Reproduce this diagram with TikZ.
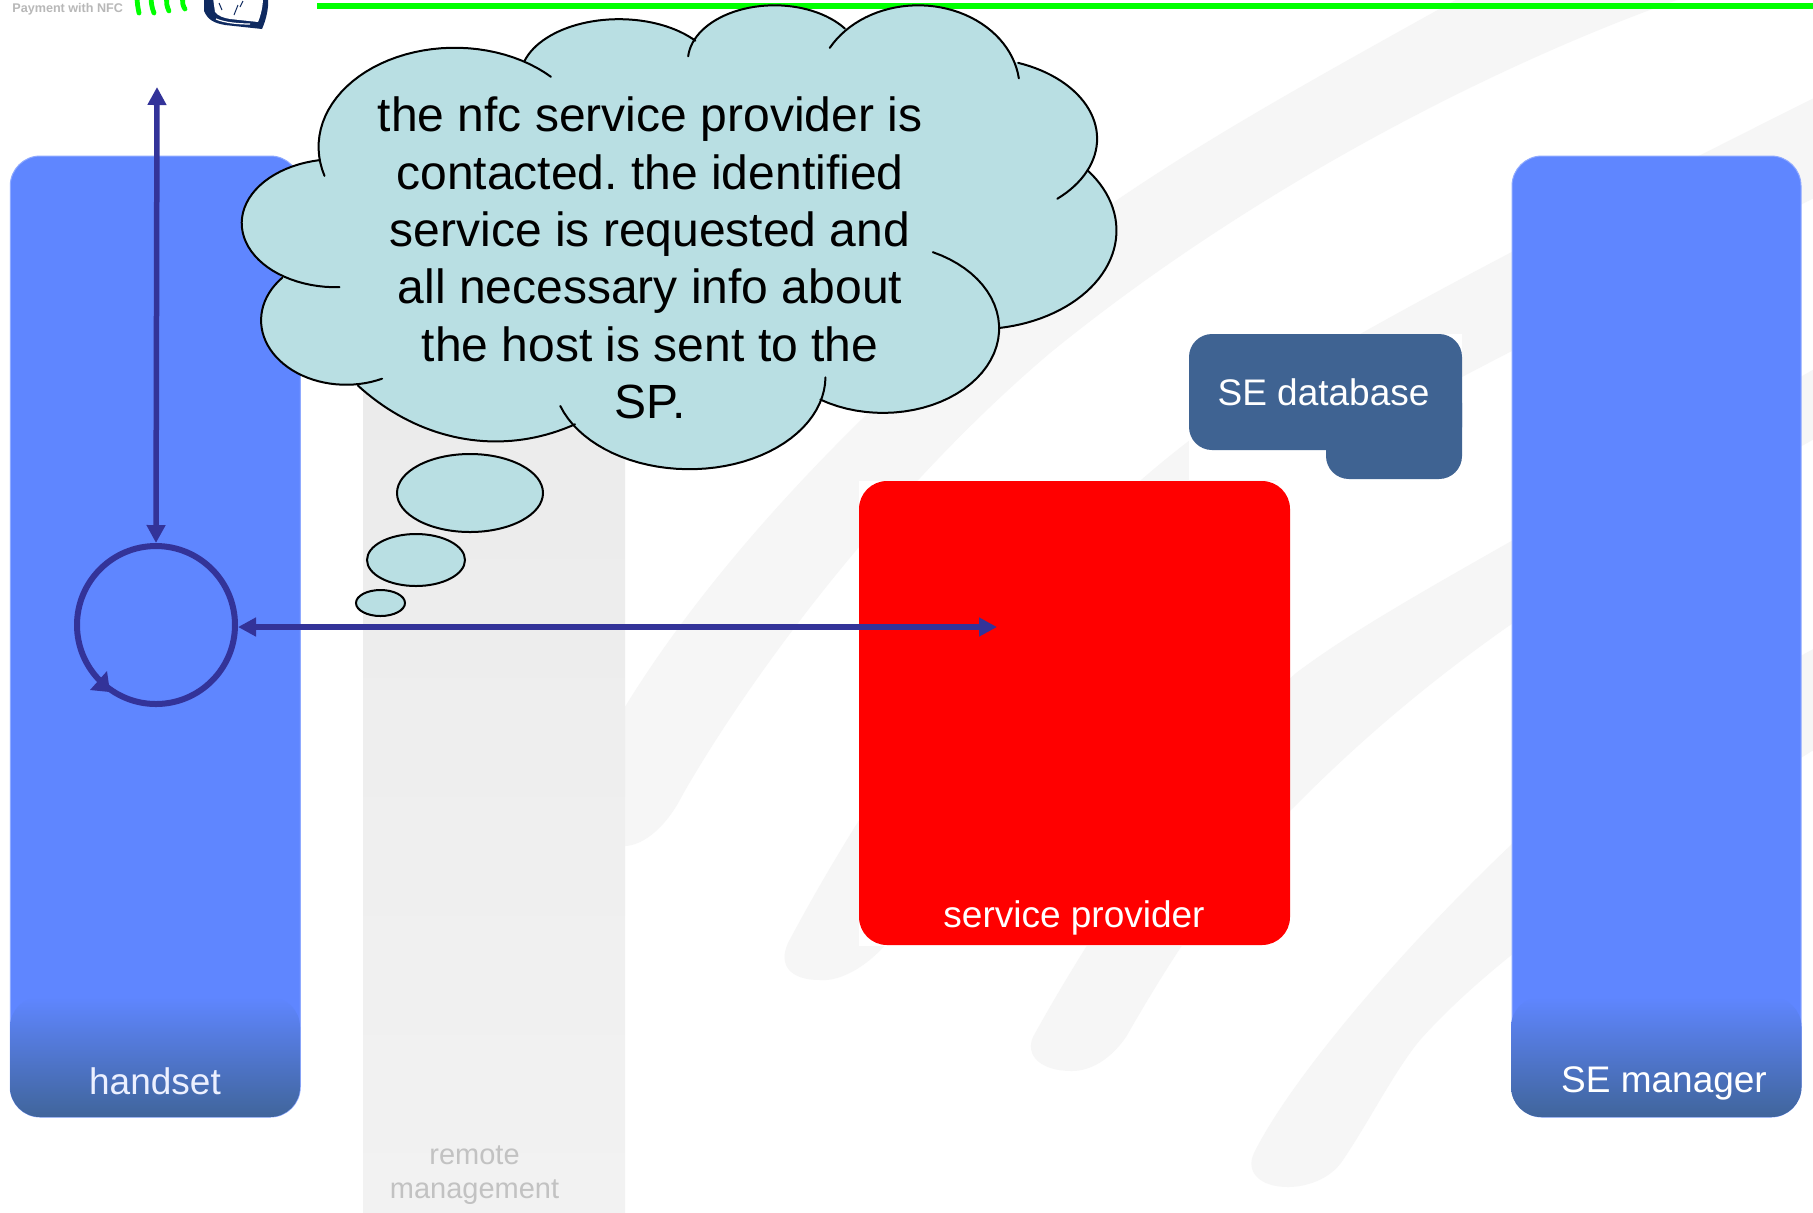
\documentclass[tikz,border=0pt]{standalone}
\usepackage{fontspec}
\setmainfont{Liberation Sans}
\usetikzlibrary{arrows.meta,calc,shapes.geometric}
\definecolor{barblue}{HTML}{5F86FF}
\definecolor{bardark}{HTML}{40659B}
\definecolor{dbblue}{HTML}{3F6392}
\definecolor{cloudcol}{HTML}{B9DFE3}
\definecolor{arrowcol}{HTML}{333399}
\definecolor{swooshcol}{HTML}{F6F6F6}
\definecolor{navy}{HTML}{0F2A60}
\definecolor{bandtop}{HTML}{EBEBEB}
\definecolor{bandbottom}{HTML}{F2F2F2}
% each lobe: centre x, centre y, radius x, radius y, first angle, last angle
\newcommand\cloudlobes[1]{%
#1{400}{360}{232}{243}{163}{315}%
#1{680}{190.5}{168}{143.5}{197.3}{320.8}%
#1{945}{149}{147.5}{136}{184.6}{324.5}%
#1{1190}{218}{173}{205}{209.4}{352.7}%
#1{1290}{340}{205}{198}{-69.9}{48}%
#1{1290}{565}{238}{242}{-37.5}{80.8}%
#1{1130}{805}{198}{207}{-64.6}{122.6}%
#1{800}{923}{232}{227}{0.5}{161.5}%
#1{470}{392}{393}{690}{69.9}{126.7}%
#1{215}{785}{145}{158}{65}{221.2}%
#1{198}{547}{161}{157}{88}{260}%
}
\newcommand\lobefill[6]{\path[cloudbody] plot[domain=#5:#6,samples=40,variable=\t] ({#1+#3*cos(\t)},{#2+#4*sin(\t)}) -- cycle;}
\newcommand\lobeline[6]{\draw[cloudline] plot[domain=#5:#6,samples=40,variable=\t] ({#1+#3*cos(\t)},{#2+#4*sin(\t)});}
\tikzset{
 cloudbody/.style={fill=cloudcol,draw=cloudcol,line width=.6pt},
 cloudline/.style={black,line width=1pt,line cap=round,line join=round},
 bubble/.style={ellipse,draw=black,fill=cloudcol,line width=1pt,inner sep=0pt,outer sep=0pt},
 barbox/.style={rectangle,fill=barblue,draw=barblue!70!white,line width=.5pt,rounded corners=15pt,inner sep=0pt,outer sep=0pt},
 label37/.style={font=\fontsize{18.5}{22}\selectfont,text=white,inner sep=0pt,anchor=base},
 link/.style={arrowcol,line width=2.75pt,{Triangle[length=9pt,width=9pt]}-{Triangle[length=9pt,width=9pt]}},
 swoosh/.style={fill=swooshcol},
 tick/.style={draw=green,line width=2.4pt,line cap=round},
}
\begin{document}
\frenchspacing
\begin{tikzpicture}[x=0.5pt,y=-0.5pt]
\useasboundingbox (0,0) rectangle (1813,1212);
\clip (0,0) rectangle (1813,1212);
\fill[white] (0,0) rectangle (1813,1212);
% background swooshes
\fill[swoosh] (600,750) .. controls (695,575) and (880,380) .. (1117,200) .. controls (1220,130) and (1330,70) .. (1470,-8) -- (1700,-8) .. controls (1500,60) and (1250,190) .. (1050,353) .. controls (900,480) and (760,660) .. (683,794) .. controls (665,830) and (640,848) .. (620,846) .. controls (600,845) and (590,780) .. (600,750) -- cycle;
\fill[swoosh] (788,943) .. controls (880,770) and (1020,570) .. (1190,440) .. controls (1300,360) and (1500,255) .. (1830,90) -- (1830,190) .. controls (1650,280) and (1450,380) .. (1290,470) .. controls (1130,590) and (1000,770) .. (900,925) .. controls (875,965) and (840,982) .. (820,980) .. controls (790,980) and (778,965) .. (788,943) -- cycle;
\fill[swoosh] (1033,1037) .. controls (1100,915) and (1220,740) .. (1296,673) .. controls (1380,610) and (1500,550) .. (1830,360) -- (1830,430) .. controls (1600,560) and (1450,650) .. (1296,805) .. controls (1240,860) and (1190,925) .. (1126,1037) .. controls (1110,1060) and (1090,1071) .. (1072,1071) .. controls (1040,1071) and (1025,1055) .. (1033,1037) -- cycle;
\fill[swoosh] (1254,1153) .. controls (1290,1080) and (1400,950) .. (1513,843) .. controls (1600,770) and (1700,710) .. (1830,640) -- (1830,740) .. controls (1650,850) and (1500,950) .. (1420,1040) .. controls (1395,1070) and (1370,1120) .. (1343,1160) .. controls (1330,1180) and (1305,1187) .. (1288,1187) .. controls (1260,1187) and (1245,1172) .. (1254,1153) -- cycle;
% remote management band
\shade[top color=bandtop,bottom color=bandbottom] (363,380) rectangle (625,1212);
% white backings
\fill[white] (859,481) rectangle (1290,946);
\fill[white] (1189,334) rectangle (1462,480);
% logo
\node[anchor=base west,inner sep=0pt,text=black!28,font=\fontsize{6.3}{8}\selectfont\bfseries] (logotext) at (12,12) {Payment with NFC};
\draw[tick] (137,-4) .. controls (137,3) and (138,8) .. (139,13);
\draw[tick] (151,-4) .. controls (151,3) and (152,8) .. (154,13);
\draw[tick] (167,-4) .. controls (166,3) and (167,7) .. (169,11);
\draw[tick] (183,-4) .. controls (182,3) and (183,6) .. (185,9);
\fill[navy] (204,-2) -- (204,11) .. controls (208,20) and (214,23) .. (225,25) -- (262,29) .. controls (266,20) and (269,8) .. (268,-2) -- cycle;
\fill[white] (213,-2) -- (215,12) .. controls (218,16) and (224,18) .. (230,19) -- (258,22) .. controls (261,15) and (263,6) .. (263,-2) -- cycle;
\draw[navy,line width=.5pt] (219,3) -- (222,10) (238,5) -- (234,15) (243,1) -- (240,7);
\draw[white,line width=.6pt] (216,19) .. controls (225,23) and (240,24) .. (250,24);
% green rule
\fill[green] (317,3) rectangle (1813,9);
% bars
\node[barbox,minimum width=145pt,minimum height=480.5pt] (handset) at (155.25,636.5) {};
\shade[top color=barblue,bottom color=bardark,rounded corners=15pt] (10,997) rectangle (300,1117);
\node[barbox,minimum width=144.5pt,minimum height=480.5pt] (manager) at (1656.5,636.5) {};
\shade[top color=barblue,bottom color=bardark,rounded corners=15pt] (1511,997) rectangle (1801.5,1117);
\node[label37,text=white!88!barblue] (handsettext) at (155,1094) {handset};
\node[label37] (managertext) at (1664,1092) {SE manager};
% service provider
\node[rectangle,fill=red,rounded corners=14pt,minimum width=215.5pt,minimum height=232pt,inner sep=0pt,outer sep=0pt] (provider) at (1074.5,713) {};
\node[label37] (providertext) at (1074,927) {service provider};
% SE database
\fill[dbblue,rounded corners=11.5pt] (1326,380) rectangle (1462,479);
\node[rectangle,fill=dbblue,rounded corners=11.5pt,minimum width=136.5pt,minimum height=58pt,inner sep=0pt,outer sep=0pt] (database) at (1325.5,392) {};
\node[label37] (databasetext) at (1323.5,405) {SE database};
% remote management label
\node[anchor=base,inner sep=0pt,text=black!24,font=\fontsize{14.5}{17.25}\selectfont,align=center] (remote) at (474.5,1164) {remote};
\node[anchor=base,inner sep=0pt,text=black!24,font=\fontsize{14.5}{17.25}\selectfont] (management) at (474.5,1198) {management};
% connectors
\node[circle,draw=arrowcol,line width=3pt,minimum size=79pt,inner sep=0pt] (spin) at (156,625) {};
\coordinate (uptip) at (157,87);
\coordinate (sptip) at (997,627);
\draw[link] (uptip) -- (spin.north);
\draw[link] (spin.east |- sptip) -- (sptip);
\fill[arrowcol] (90,690) -- (107,671) -- (110,692) -- cycle;
% thought cloud
\begin{scope}[shift={(220,0)},x=0.29335pt,y=-0.204pt]
\path[cloudbody] (520,148) -- (810,100) -- (1065,70) -- (1360,155) -- (1478,418) -- (1328,805) -- (1020,985) -- (605,1040) -- (235,945) -- (105,680) -- (170,392) -- cycle;
\cloudlobes{\lobefill}
\cloudlobes{\lobeline}
\end{scope}
\node[bubble,minimum width=73pt,minimum height=39pt] (bubbleA) at (470,493) {};
\node[bubble,minimum width=49pt,minimum height=26pt] (bubbleB) at (416,560) {};
\node[bubble,minimum width=24.5pt,minimum height=13pt] (bubbleC) at (380.5,603) {};
\node[inner sep=0pt,align=center,text=black,font=\fontsize{24}{28.7}\selectfont] (cloudtext) at (650,258)
{the nfc service provider is\\contacted. the identified\\service is requested and\\all necessary info about\\the host is sent to the\\SP.};
\end{tikzpicture}
\end{document}
